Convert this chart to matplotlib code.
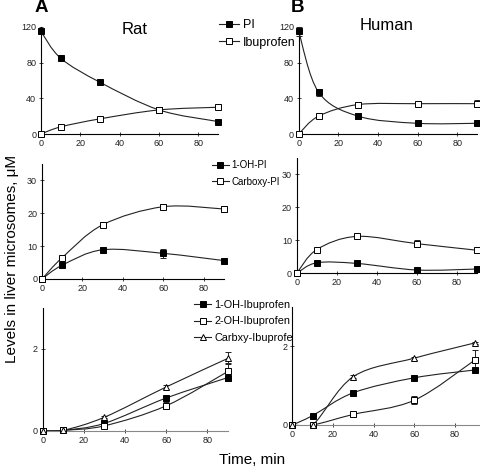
import matplotlib
matplotlib.use("Agg")
import matplotlib.pyplot as plt
from matplotlib.path import Path
from matplotlib.patches import PathPatch
import numpy as np

plt.rcParams['font.family'] = ['Liberation Sans', 'DejaVu Sans']

time = [0, 10, 30, 60, 90]

# Top row: parent drugs
rat_pi = [115, 85, 58, 27, 14]
rat_pi_err = [2, 1, 1, 1, 1]
rat_ibu = [0, 8, 17, 27, 30]
rat_ibu_err = [0, 0.5, 0.5, 1, 1]
hum_pi = [115, 47, 20, 12, 12]
hum_pi_err = [5, 4, 3, 2, 1]
hum_ibu = [0, 20, 33, 34, 34]
hum_ibu_err = [0, 0.5, 3, 1, 4]

# Middle row: PI metabolites
rat_ohpi = [0, 4.2, 8.9, 7.8, 5.6]
rat_ohpi_err = [0, 0.2, 0.3, 1.4, 0.6]
rat_cpi = [0, 6.5, 16.5, 22.0, 21.3]
rat_cpi_err = [0, 0.2, 0.7, 0.7, 1.0]
hum_ohpi = [0, 3.2, 3.0, 1.0, 1.3]
hum_ohpi_err = [0, 0.2, 0.2, 0.2, 0.2]
hum_cpi = [0, 7.2, 11.2, 9.0, 7.0]
hum_cpi_err = [0, 0.3, 0.3, 1.0, 0.7]

# Bottom row: ibuprofen metabolites
rat_oh1 = [0, 0.01, 0.18, 0.80, 1.30]
rat_oh1_err = [0, 0, 0.03, 0.04, 0.08]
rat_oh2 = [0, 0.01, 0.12, 0.61, 1.45]
rat_oh2_err = [0, 0, 0.03, 0.08, 0.2]
rat_cib = [0, 0.01, 0.33, 1.07, 1.77]
rat_cib_err = [0, 0, 0.03, 0.05, 0.15]
hum_oh1 = [0, 0.24, 0.82, 1.20, 1.40]
hum_oh1_err = [0, 0.02, 0.03, 0.03, 0.03]
hum_oh2 = [0, 0.0, 0.27, 0.63, 1.66]
hum_oh2_err = [0, 0, 0.04, 0.1, 0.25]
hum_cib = [0, 0.0, 1.23, 1.70, 2.09]
hum_cib_err = [0, 0, 0.04, 0.04, 0.03]

W, H = 480, 468
fig = plt.figure(figsize=(4.8, 4.68), dpi=100)

def add_ax(l, r, b, t):
    return fig.add_axes([l / W, 1 - b / H, (r - l) / W, (b - t) / H])

def smooth(ax, x, y, color='#222222'):
    x = np.asarray(x, float); y = np.asarray(y, float)
    n = len(x)
    verts = [(x[0], y[0])]
    codes = [Path.MOVETO]
    for i in range(n - 1):
        p0 = np.array([x[max(i - 1, 0)], y[max(i - 1, 0)]])
        p1 = np.array([x[i], y[i]])
        p2 = np.array([x[i + 1], y[i + 1]])
        p3 = np.array([x[min(i + 2, n - 1)], y[min(i + 2, n - 1)]])
        c1 = p1 + (p2 - p0) / 6.0
        c2 = p2 - (p3 - p1) / 6.0
        verts += [tuple(c1), tuple(c2), tuple(p2)]
        codes += [Path.CURVE4] * 3
    ax.add_patch(PathPatch(Path(verts, codes), fill=False, lw=0.8,
                           edgecolor=color, zorder=2))

def series(ax, y, err, marker, fc, label, ms=3.7):
    smooth(ax, time, y)
    ax.errorbar(time, y, yerr=err, fmt='none', ecolor='#222222',
                elinewidth=0.7, capsize=2, capthick=0.7, zorder=3, clip_on=False)
    ax.plot(time, y, linestyle='none', marker=marker, ms=ms, mfc=fc,
            mec='black', mew=0.7, zorder=4, clip_on=False)
    ax.plot([], [], color='#222222', lw=0.8, marker=marker, ms=ms, mfc=fc,
            mec='black', mew=0.7, label=label)

def style(ax, xmax, ylim, yticks, bottom_color='black'):
    ax.set_xlim(0, xmax)
    ax.set_ylim(*ylim)
    ax.set_xticks([0, 20, 40, 60, 80])
    ax.set_yticks(yticks)
    for s in ['top', 'right']:
        ax.spines[s].set_visible(False)
    ax.spines['left'].set_linewidth(0.8)
    ax.spines['bottom'].set_linewidth(0.8)
    ax.spines['bottom'].set_color(bottom_color)
    ax.tick_params(labelsize=6.5, length=3, width=0.6, direction='inout',
                   colors='#222222', pad=2)

# Top row
ax1 = add_ax(41, 218, 134, 27)
series(ax1, rat_pi, rat_pi_err, 's', 'black', 'PI')
series(ax1, rat_ibu, rat_ibu_err, 's', 'white', 'Ibuprofen')
style(ax1, 90, (0, 120), [0, 40, 80, 120])

ax2 = add_ax(298.7, 477, 134, 27)
series(ax2, hum_pi, hum_pi_err, 's', 'black', 'PI')
series(ax2, hum_ibu, hum_ibu_err, 's', 'white', 'Ibuprofen')
style(ax2, 90, (0, 120), [0, 40, 80, 120])

# Middle row
ax3 = add_ax(42, 224, 279, 164)
series(ax3, rat_ohpi, rat_ohpi_err, 's', 'black', '1-OH-PI')
series(ax3, rat_cpi, rat_cpi_err, 's', 'white', 'Carboxy-PI')
style(ax3, 90, (0, 35), [0, 10, 20, 30])

ax4 = add_ax(296.7, 477, 273.3, 158)
series(ax4, hum_ohpi, hum_ohpi_err, 's', 'black', '1-OH-PI')
series(ax4, hum_cpi, hum_cpi_err, 's', 'white', 'Carboxy-PI')
style(ax4, 90, (0, 35), [0, 10, 20, 30])

# Bottom row
ax5 = add_ax(42.7, 228, 430.7, 308)
series(ax5, rat_oh1, rat_oh1_err, 's', 'black', '1-OH-Ibuprofen')
series(ax5, rat_oh2, rat_oh2_err, 's', 'white', '2-OH-Ibuprofen')
series(ax5, rat_cib, rat_cib_err, '^', 'white', 'Carbxy-Ibuprofen')
style(ax5, 90, (0, 3), [0, 2], bottom_color='#888888')

ax6 = add_ax(292.3, 480, 425, 307)
series(ax6, hum_oh1, hum_oh1_err, 's', 'black', '1-OH-Ibuprofen')
series(ax6, hum_oh2, hum_oh2_err, 's', 'white', '2-OH-Ibuprofen')
series(ax6, hum_cib, hum_cib_err, '^', 'white', 'Carbxy-Ibuprofen')
style(ax6, 92.3, (0, 3), [0, 2], bottom_color='#888888')

# Legends
def leg(ax, x, y, fs, spacing, hl=1.6):
    ax.legend(loc='upper left', bbox_to_anchor=(x / W, 1 - y / H),
              bbox_transform=fig.transFigure, frameon=False, fontsize=fs,
              handlelength=hl, handletextpad=0.3, borderpad=0,
              borderaxespad=0, labelspacing=spacing)

leg(ax1, 219, 19, 9, 0.45)
leg(ax3, 212, 160, 7, 0.7, hl=1.7)
leg(ax5, 194, 300, 7.8, 0.6)

# Titles and panel letters
fig.text(135 / W, 1 - 30 / H, 'Rat', fontsize=12, ha='center', va='center')
fig.text(387 / W, 1 - 25 / H, 'Human', fontsize=12, ha='center', va='center')
fig.text(41 / W, 1 - 8 / H, 'A', fontsize=13.5, fontweight='bold', ha='center', va='center')
fig.text(297 / W, 1 - 8 / H, 'B', fontsize=13.5, fontweight='bold', ha='center', va='center')

fig.text(12 / W, 1 - 259 / H, 'Levels in liver microsomes, μM', fontsize=11,
         rotation=90, ha='center', va='center')
fig.text(252 / W, 1 - 460 / H, 'Time, min', fontsize=11, ha='center', va='center')

fig.savefig('out.png', dpi=100)
